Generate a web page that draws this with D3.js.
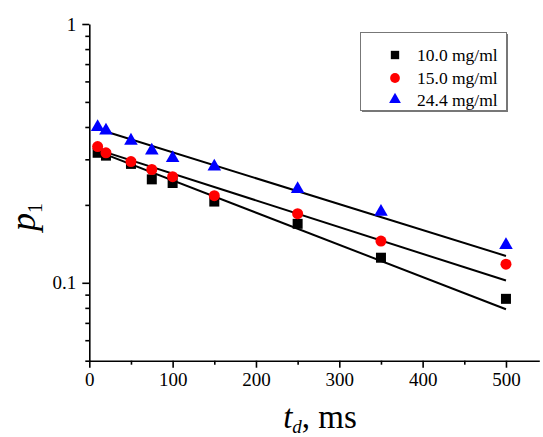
<!DOCTYPE html>
<html><head><meta charset="utf-8">
<script src="https://cdn.jsdelivr.net/npm/d3@7"></script>
<style>
html,body{margin:0;padding:0;background:#fff;}
svg{display:block;}
text{font-family:'Liberation Serif','Times New Roman',Times,serif;fill:#000;}
</style></head>
<body>
<svg id="chart" width="543" height="437"></svg>
<script>
// ---- data ----
const tValues = [10, 20, 50, 75, 100, 150, 250, 350, 500];
const p10 = [0.318, 0.310, 0.288, 0.251, 0.243, 0.206, 0.169, 0.125, 0.0867];
const p15 = [0.336, 0.318, 0.294, 0.274, 0.257, 0.217, 0.185, 0.145, 0.118];
const p24 = [0.400, 0.387, 0.354, 0.324, 0.303, 0.281, 0.230, 0.188, 0.140];
const fitT = [10, 500];
const fit10 = [0.322, 0.079];
const fit15 = [0.327, 0.102];
const fit24 = [0.393, 0.127];
const seriesNames = ["10.0 mg/ml", "15.0 mg/ml", "24.4 mg/ml"];
const xMajorTicks = [0, 100, 200, 300, 400, 500];
const xMinorTicks = [50, 150, 250, 350, 450];
const yMajorTicks = [0.1, 1];
const yMinorTicks = [0.05, 0.06, 0.07, 0.08, 0.09, 0.2, 0.3, 0.4, 0.5, 0.6, 0.7, 0.8, 0.9];

const FONT = "'Liberation Serif','Times New Roman',Times,serif";
const svg = d3.select("#chart");
const x = d3.scaleLinear().domain([0, 540]).range([89.3, 539.3]);
const y = d3.scaleLog().domain([0.05, 1]).range([360.7, 24]);

// axes
const gx = svg.append("g").attr("transform", `translate(0,${y(0.05)})`);
gx.call(d3.axisBottom(x).tickValues(xMajorTicks).tickSize(7).tickSizeOuter(0).tickPadding(5).tickFormat(d3.format("d")));
const gxm = svg.append("g").attr("transform", `translate(0,${y(0.05)})`);
gxm.call(d3.axisBottom(x).tickValues(xMinorTicks).tickSize(4).tickSizeOuter(0).tickFormat(""));
gxm.select(".domain").remove();

const gy = svg.append("g").attr("transform", `translate(${x(0)},0)`);
gy.call(d3.axisLeft(y).tickValues(yMajorTicks).tickSize(7).tickSizeOuter(0).tickPadding(6).tickFormat(d => d === 1 ? "1" : "0.1"));
const gym = svg.append("g").attr("transform", `translate(${x(0)},0)`);
gym.call(d3.axisLeft(y).tickValues(yMinorTicks).tickSize(4).tickSizeOuter(0).tickFormat(""));
gym.select(".domain").remove();

svg.selectAll("g").attr("font-family", null);
svg.selectAll(".domain").attr("stroke", "#000").attr("stroke-width", 1.6);
svg.selectAll(".tick line").attr("stroke", "#000").attr("stroke-width", 1.6);
svg.selectAll(".tick text").style("font-family", FONT).attr("font-size", 19).attr("fill", "#000");

// fit lines
const line = d3.line().x(d => x(d[0])).y(d => y(d[1]));
[fit10, fit15, fit24].forEach(f => {
  svg.append("path").datum(fitT.map((t, i) => [t, f[i]]))
    .attr("d", line).attr("fill", "none").attr("stroke", "#000").attr("stroke-width", 2);
});

// markers
const sq = d3.symbol().type(d3.symbolSquare).size(100);
const ci = d3.symbol().type(d3.symbolCircle).size(95);
const tr = d3.symbol().type(d3.symbolTriangle).size(80);

function drawSeries(vals, sym, color) {
  svg.append("g").selectAll("path").data(tValues.map((t, i) => [t, vals[i]])).join("path")
    .attr("transform", d => `translate(${x(d[0])},${y(d[1])})`)
    .attr("d", sym).attr("fill", color);
}
drawSeries(p10, sq, "#000");
drawSeries(p15, ci, "#ff0000");
drawSeries(p24, tr, "#0000ff");

// legend
const lg = svg.append("g");
lg.append("rect").attr("x", 362).attr("y", 34).attr("width", 146).attr("height", 78).attr("fill", "#777");
lg.append("rect").attr("x", 360.5).attr("y", 32.5).attr("width", 146).attr("height", 78)
  .attr("fill", "#fff").attr("stroke", "#777").attr("stroke-width", 1);
const legSyms = [
  d3.symbol().type(d3.symbolSquare).size(70),
  d3.symbol().type(d3.symbolCircle).size(75),
  d3.symbol().type(d3.symbolTriangle).size(60)
];
const legColors = ["#000", "#ff0000", "#0000ff"];
const legY = [55, 78, 99.5];
seriesNames.forEach((n, i) => {
  lg.append("path").attr("transform", `translate(395,${legY[i]})`).attr("d", legSyms[i]).attr("fill", legColors[i]);
  lg.append("text").attr("x", 417).attr("y", legY[i] + 6).style("font-family", FONT).attr("font-size", 17.5).text(n);
});

// axis titles
const yl = svg.append("text").attr("transform", "translate(35,217) rotate(-90)")
  .attr("text-anchor", "middle").style("font-family", FONT).attr("font-size", 36);
yl.append("tspan").attr("font-style", "italic").text("p");
yl.append("tspan").attr("font-size", 20).attr("dy", 7).text("1");

const xl = svg.append("text").attr("x", 320).attr("y", 428).attr("text-anchor", "middle").style("font-family", FONT).attr("font-size", 33);
xl.append("tspan").attr("font-style", "italic").text("t");
xl.append("tspan").attr("font-style", "italic").attr("font-size", 19).attr("dy", 5).text("d");
xl.append("tspan").attr("dy", -5).text(", ms");
</script>
</body></html>
